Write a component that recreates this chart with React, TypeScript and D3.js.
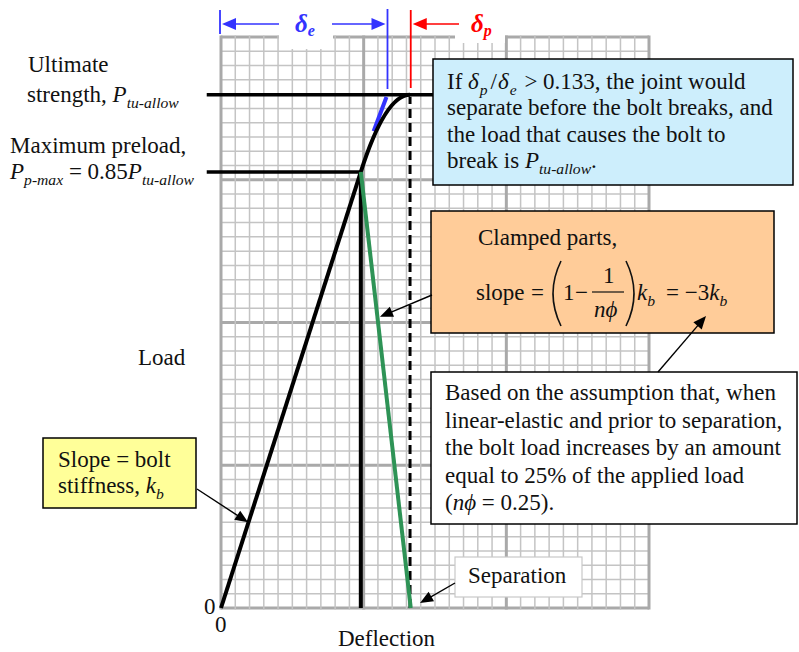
import React from "react";
import * as d3 from "d3";

// deflection / load in grid cells
const gridCols = d3.range(0, 31);
const gridRows = d3.range(0, 41);
const boltLine = [
    [0, 0],
    [9.8, 30.55],
];
const preloadLoad = 30.55;
const ultimateLoad = 35.95;
const yieldCurve = [
    [9.8, 30.55],
    [11.53, 35.95],
    [13.25, 35.95],
];
const tangentSeg = [
    [10.7, 33.4],
    [11.6, 35.8],
];
const clampedLine = [
    [9.8, 30.55],
    [13.3, 0],
];
const separationX = 13.25;
const deltaEnd = 11.6;
const deltaPEnd = 13.3;

type Run = { t: string; it?: boolean; sub?: boolean; dx?: number };

const W = 799;
const H = 652;
const serif = '"Liberation Serif", "Tinos", "Times New Roman", serif';

const x = d3.scaleLinear().domain([0, 30]).range([221, 649]);
const y = d3.scaleLinear().domain([0, 40]).range([608, 37]);

function head(x1: number, y1: number, x2: number, y2: number, len = 13, hw = 5.5) {
    const a = Math.atan2(y2 - y1, x2 - x1);
    const bx = x2 - len * Math.cos(a);
    const by = y2 - len * Math.sin(a);
    const nx = -Math.sin(a) * hw;
    const ny = Math.cos(a) * hw;
    return `${x2},${y2} ${bx + nx},${by + ny} ${bx - nx},${by - ny}`;
}

const Arrow = ({ x1, y1, x2, y2, color = "#000", w = 1.4, len = 13, hw = 5.5 }: any) => {
    const a = Math.atan2(y2 - y1, x2 - x1);
    return (
        <g>
            <line x1={x1} y1={y1} x2={x2 - (len - 2) * Math.cos(a)} y2={y2 - (len - 2) * Math.sin(a)} stroke={color} strokeWidth={w} />
            <polygon points={head(x1, y1, x2, y2, len, hw)} fill={color} />
        </g>
    );
};

const Rich = ({ x, y, runs, size = 23, fill = "#111" }: any) => {
    let cur = 0;
    return (
        <text x={x} y={y} fontSize={size} fill={fill} style={{ whiteSpace: "pre", fontFamily: serif }}>
            {(runs as Run[]).map((r, i) => {
                const target = r.sub ? size * 0.28 : 0;
                const dy = target - cur;
                cur = target;
                return (
                    <tspan key={i} dx={r.dx} dy={dy} fontStyle={r.it ? "italic" : undefined} fontSize={r.sub ? size * 0.68 : undefined}>
                        {r.t}
                    </tspan>
                );
            })}
        </text>
    );
};

const T = ({ x, y, children, size = 23, italic = false }: any) => (
    <text x={x} y={y} fontSize={size} fill="#111" fontStyle={italic ? "italic" : undefined} style={{ whiteSpace: "pre", fontFamily: serif }}>
        {children}
    </text>
);

const App = () => {
    const line = d3
        .line<number[]>()
        .x((d) => x(d[0]))
        .y((d) => y(d[1]));

    const curve = d3.path();
    curve.moveTo(x(yieldCurve[0][0]), y(yieldCurve[0][1]));
    curve.quadraticCurveTo(x(yieldCurve[1][0]), y(yieldCurve[1][1]), x(yieldCurve[2][0]), y(yieldCurve[2][1]));

    return (
        <svg width={W} height={H} style={{ position: "absolute", left: 0, top: 0 }}>
            <rect width={W} height={H} fill="#fff" />

            {/* grid */}
            <g>
                {gridRows.map((r) => (
                    <line key={"h" + r} x1={x(0)} x2={x(30)} y1={y(r)} y2={y(r)}
                        stroke={r % 10 === 0 ? "#a9a9a9" : "#c4c4c4"} strokeWidth={r % 10 === 0 ? 3 : 1.5} />
                ))}
                {gridCols.map((c) => (
                    <line key={"v" + c} x1={x(c)} x2={x(c)} y1={y(0) + 1.5} y2={y(40) - 1.5}
                        stroke={c % 10 === 0 ? "#a9a9a9" : "#c4c4c4"} strokeWidth={c % 10 === 0 ? 3 : 1.5} />
                ))}
            </g>
            <rect x={279} y={0} width={54} height={49} fill="#fff" />
            <rect x={455} y={0} width={50} height={43} fill="#fff" />

            {/* delta markers */}
            <line x1={x(0) - 1} x2={x(0) - 1} y1={10} y2={34} stroke="#3333ff" strokeWidth={1.8} />
            <line x1={x(deltaEnd) + 1} x2={x(deltaEnd) + 1} y1={9} y2={89} stroke="#3333ff" strokeWidth={1.8} />
            <line x1={x(deltaPEnd)} x2={x(deltaPEnd)} y1={10} y2={88} stroke="#ff0000" strokeWidth={1.8} />
            <Arrow x1={279} y1={24} x2={x(0) + 1} y2={24} color="#3333ff" w={1.6} len={14} hw={6} />
            <Arrow x1={332} y1={24} x2={x(deltaEnd) - 1} y2={24} color="#3333ff" w={1.6} len={14} hw={6} />
            <Arrow x1={459} y1={24} x2={x(deltaPEnd) + 2} y2={24} color="#ff0000" w={1.6} len={14} hw={6} />
            <text x={295} y={32} fontSize={25} fontWeight="bold" fontStyle="italic" fill="#3333ff" style={{ fontFamily: serif }}>
                δ<tspan fontSize={16} dy={4}>e</tspan>
            </text>
            <text x={471} y={32} fontSize={25} fontWeight="bold" fontStyle="italic" fill="#ff0000" style={{ fontFamily: serif }}>
                δ<tspan fontSize={16} dy={4}>p</tspan>
            </text>

            {/* load levels */}
            <line x1={x(-1)} x2={x(14.9)} y1={y(ultimateLoad)} y2={y(ultimateLoad)} stroke="#000" strokeWidth={3.5} />
            <line x1={x(-1)} x2={x(boltLine[1][0])} y1={y(preloadLoad)} y2={y(preloadLoad)} stroke="#000" strokeWidth={3.5} />

            {/* curves */}
            <line x1={x(separationX)} x2={x(separationX)} y1={y(0)} y2={y(ultimateLoad) + 2} stroke="#000" strokeWidth={3} strokeDasharray="9,5" />
            <line x1={x(boltLine[1][0])} x2={x(boltLine[1][0])} y1={y(0)} y2={y(preloadLoad)} stroke="#000" strokeWidth={4} />
            <path d={line(tangentSeg as any) || ""} stroke="#3333ff" strokeWidth={4} fill="none" />
            <path d={line(boltLine as any) || ""} stroke="#000" strokeWidth={4} fill="none" />
            <path d={curve.toString()} stroke="#000" strokeWidth={4} fill="none" />
            <path d={line(clampedLine as any) || ""} stroke="#2e9356" strokeWidth={4} fill="none" />

            {/* left labels */}
            <T x={28} y={72}>Ultimate</T>
            <Rich x={27} y={102} runs={[{ t: "strength, " }, { t: "P", it: true }, { t: "tu-allow", it: true, sub: true }]} />
            <T x={10} y={153}>Maximum preload,</T>
            <Rich x={10} y={179} runs={[
                { t: "P", it: true }, { t: "p-max", it: true, sub: true }, { t: " = 0.85" }, { t: "P", it: true }, { t: "tu-allow", it: true, sub: true },
            ]} />
            <T x={138} y={365}>Load</T>
            <T x={204} y={614}>0</T>
            <T x={215} y={632}>0</T>
            <T x={338} y={646}>Deflection</T>

            {/* blue box */}
            <rect x={433} y={59} width={360} height={126} fill="#cdeefc" stroke="#000" strokeWidth={1.5} />
            <Rich x={447} y={89} runs={[
                { t: "If " }, { t: "δ", it: true }, { t: "p", it: true, sub: true, dx: 1 }, { t: "/", dx: 3 }, { t: "δ", it: true, dx: 1 },
                { t: "e", it: true, sub: true, dx: 1 }, { t: " > 0.133, the joint would", dx: 2 },
            ]} />
            <T x={447} y={115}>separate before the bolt breaks, and</T>
            <T x={447} y={142}>the load that causes the bolt to</T>
            <Rich x={447} y={168} runs={[{ t: "break is " }, { t: "P", it: true }, { t: "tu-allow", it: true, sub: true }, { t: "." }]} />

            {/* orange box */}
            <rect x={431} y={211} width={343} height={122} fill="#ffcc99" stroke="#000" strokeWidth={1.5} />
            <T x={478} y={245}>Clamped parts,</T>
            <T x={476} y={300}>slope</T>
            <T x={531} y={300}>=</T>
            <path d="M561,261 Q545,293.5 561,326" stroke="#111" strokeWidth={1.6} fill="none" />
            <T x={563} y={300}>1</T>
            <T x={575} y={300}>−</T>
            <line x1={592} x2={624} y1={292} y2={292} stroke="#111" strokeWidth={1.2} />
            <T x={603} y={283}>1</T>
            <T x={594} y={317} italic>nϕ</T>
            <path d="M626,261 Q642,293.5 626,326" stroke="#111" strokeWidth={1.6} fill="none" />
            <Rich x={637} y={300} runs={[{ t: "k", it: true }, { t: "b", it: true, sub: true }]} />
            <Rich x={666} y={300} runs={[{ t: "= −3" }, { t: "k", it: true }, { t: "b", it: true, sub: true }]} />

            {/* white box */}
            <rect x={431} y={372} width={366} height={152} fill="#fff" stroke="#000" strokeWidth={1.5} />
            <T x={445} y={400}>Based on the assumption that, when</T>
            <T x={445} y={428}>linear-elastic and prior to separation,</T>
            <T x={445} y={455}>the bolt load increases by an amount</T>
            <T x={445} y={483}>equal to 25% of the applied load</T>
            <Rich x={445} y={510} runs={[{ t: "(" }, { t: "nϕ", it: true }, { t: " = 0.25)." }]} />
            <Arrow x1={658} y1={372} x2={706} y2={316} />

            {/* yellow box */}
            <rect x={43} y={438} width={153} height={70} fill="#ffff99" stroke="#000" strokeWidth={1.5} />
            <T x={58} y={467}>Slope = bolt</T>
            <Rich x={58} y={493} runs={[{ t: "stiffness, " }, { t: "k", it: true }, { t: "b", it: true, sub: true }]} />
            <Arrow x1={197} y1={489} x2={x(1.9)} y2={y(6.0)} />

            {/* callout to clamped line */}
            <Arrow x1={432} y1={295} x2={x(11.14)} y2={y(20.4)} />

            {/* separation */}
            <rect x={455} y={557} width={127} height={40} fill="#fff" stroke="#c8c8c8" strokeWidth={1.2} />
            <T x={468} y={583}>Separation</T>
            <Arrow x1={455} y1={583} x2={x(13.95)} y2={y(0.35)} />
        </svg>
    );
};

export default App;
